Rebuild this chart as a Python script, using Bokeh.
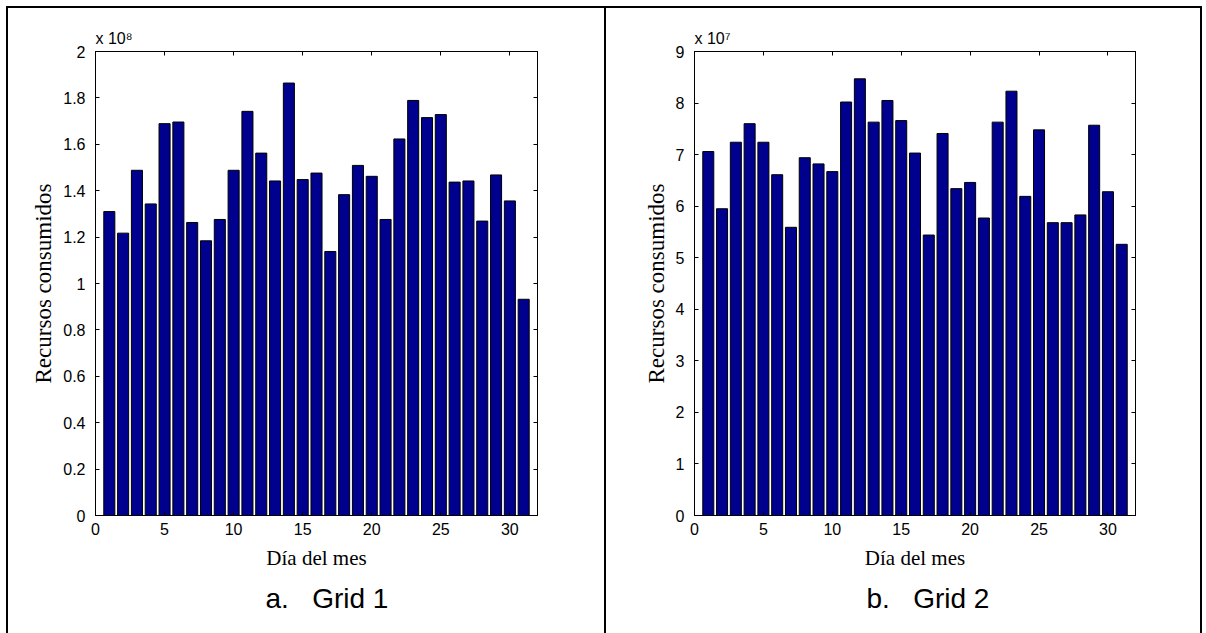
from bokeh.plotting import figure
from bokeh.models import Range1d, FixedTicker, LinearAxis, CustomJSTickFormatter, Title, Div, Spacer
from bokeh.layouts import row, column
from bokeh.embed import file_html
from bokeh.resources import INLINE

days = list(range(1, 32))
grid1 = [1.310e8, 1.217e8, 1.488e8, 1.343e8, 1.689e8, 1.696e8, 1.263e8, 1.184e8,
         1.276e8, 1.488e8, 1.742e8, 1.562e8, 1.442e8, 1.864e8, 1.448e8, 1.476e8,
         1.138e8, 1.383e8, 1.509e8, 1.462e8, 1.276e8, 1.623e8, 1.789e8, 1.715e8,
         1.728e8, 1.437e8, 1.442e8, 1.269e8, 1.468e8, 1.356e8, 0.932e8]
grid2 = [7.06e7, 5.95e7, 7.24e7, 7.60e7, 7.24e7, 6.61e7, 5.59e7, 6.94e7,
         6.82e7, 6.67e7, 8.02e7, 8.47e7, 7.63e7, 8.05e7, 7.66e7, 7.03e7,
         5.44e7, 7.41e7, 6.34e7, 6.46e7, 5.77e7, 7.63e7, 8.23e7, 6.19e7,
         7.48e7, 5.68e7, 5.68e7, 5.83e7, 7.57e7, 6.28e7, 5.26e7]
x_ticks = [0, 5, 10, 15, 20, 25, 30]
y1_ticks = [0, 0.2e8, 0.4e8, 0.6e8, 0.8e8, 1.0e8, 1.2e8, 1.4e8, 1.6e8, 1.8e8, 2.0e8]
y2_ticks = [0, 1e7, 2e7, 3e7, 4e7, 5e7, 6e7, 7e7, 8e7, 9e7]
x_label = "Día del mes"
y_label = "Recursos consumidos"

SANS = "Liberation Sans"
SERIF = "Liberation Serif"
BAR = "#00008F"


def style_axis(ax):
    ax.axis_line_color = "black"
    ax.axis_line_width = 1
    ax.major_tick_in = 4
    ax.major_tick_out = 0
    ax.minor_tick_in = 0
    ax.minor_tick_out = 0
    ax.major_tick_line_color = "black"
    ax.major_label_text_font = SANS
    ax.major_label_text_color = "black"
    ax.major_label_text_font_size = "16px"
    ax.axis_label_text_font = SERIF
    ax.axis_label_text_font_style = "normal"
    ax.axis_label_text_font_size = "21px"
    ax.axis_label_text_color = "black"


def panel(values, yticks, scale, exp_text, caption, width, mbl, mbr, cap_offset):
    p = figure(width=width, height=625, x_range=Range1d(0, 32),
               y_range=Range1d(0, yticks[-1]), output_backend="svg",
               toolbar_location=None, min_border_left=mbl, min_border_right=mbr,
               min_border_top=43, min_border_bottom=118)
    p.vbar(x=days, top=values, width=0.8, fill_color=BAR, line_color="black", line_width=1)
    p.xgrid.visible = False
    p.ygrid.visible = False
    p.outline_line_color = "black"
    p.background_fill_color = "white"
    p.border_fill_color = "white"

    fmt = CustomJSTickFormatter(code="return String(Math.round(tick / %s * 100) / 100);" % repr(scale))
    p.xaxis.ticker = FixedTicker(ticks=x_ticks)
    p.yaxis.ticker = FixedTicker(ticks=yticks)
    p.yaxis.formatter = fmt
    p.xaxis.axis_label = x_label
    p.yaxis.axis_label = y_label
    for ax in p.xaxis + p.yaxis:
        style_axis(ax)
    p.yaxis.axis_label_text_font_size = "23px"
    p.xaxis.major_label_standoff = 7
    p.xaxis.axis_label_standoff = 8
    p.yaxis.major_label_standoff = 10
    p.yaxis.axis_label_standoff = 4

    blank = CustomJSTickFormatter(code="return '';")
    top = LinearAxis(ticker=FixedTicker(ticks=x_ticks), formatter=blank)
    style_axis(top)
    top.major_label_standoff = 0
    p.add_layout(top, "above")
    right = LinearAxis(ticker=FixedTicker(ticks=yticks), formatter=blank)
    style_axis(right)
    right.major_label_standoff = 0
    p.add_layout(right, "right")

    p.title.text = exp_text
    p.title.align = "left"
    p.title.text_font = SANS
    p.title.text_font_size = "16px"
    p.title.text_font_style = "normal"
    p.title.text_color = "black"
    p.title.standoff = 9

    cap = Title(text=caption, align="left", offset=cap_offset, text_font=SANS,
                text_font_size="28px", text_font_style="normal", text_color="black",
                standoff=16)
    p.add_layout(cap, "below")
    return p


p1 = panel(grid1, y1_ticks, 1e8, "x 10\u2078", "a.\u00a0\u00a0\u00a0Grid 1", 596, 87, 67, 170)
p2 = panel(grid2, y2_ticks, 1e7, "x 10\u2077", "b.\u00a0\u00a0\u00a0Grid 2", 594, 88, 65, 172)


def vline():
    return Div(text="", width=2, height=625, margin=0, styles={"background-color": "black"})


layout = column(
    Spacer(width=1206, height=6, margin=0),
    row(Spacer(width=6, height=2, margin=0),
        Div(text="", width=1196, height=2, margin=0, styles={"background-color": "black"})),
    row(Spacer(width=6, height=625, margin=0), vline(), p1, vline(), p2, vline()),
)

open("out.html", "w").write(file_html(layout, INLINE))
